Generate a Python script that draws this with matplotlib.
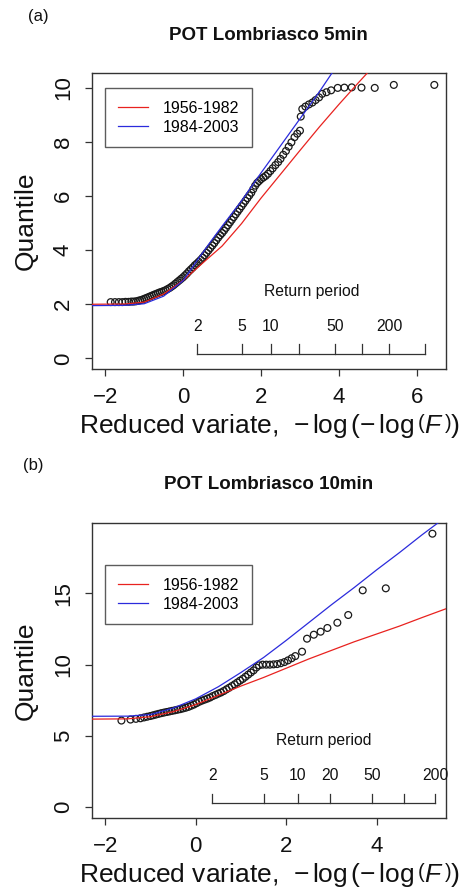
import numpy as np
import matplotlib
matplotlib.use('Agg')
import matplotlib.pyplot as plt

plt.rcParams['font.family'] = ['Liberation Sans', 'DejaVu Sans']
plt.rcParams['mathtext.fontset'] = 'custom'
plt.rcParams['mathtext.rm'] = 'Liberation Sans'
plt.rcParams['mathtext.it'] = 'Liberation Sans:italic'
plt.rcParams['mathtext.bf'] = 'Liberation Sans:bold'

# ---------------- Panel (a): POT Lombriasco 5min ----------------
a_pts_x = [-1.86, -1.75, -1.65, -1.56, -1.48, -1.40, -1.33, -1.27, -1.21, -1.15,
           -1.10, -1.05, -1.00, -0.95, -0.90, -0.85, -0.80, -0.75, -0.70, -0.65,
           -0.60, -0.55, -0.50, -0.45, -0.40, -0.35, -0.30, -0.25, -0.20, -0.15,
           -0.10, -0.05, 0.00, 0.05, 0.10, 0.15, 0.20, 0.25, 0.30, 0.35,
           0.40, 0.45, 0.50, 0.55, 0.60, 0.65, 0.70, 0.75, 0.80, 0.85,
           0.90, 0.95, 1.00, 1.05, 1.10, 1.15, 1.20, 1.25, 1.30, 1.35,
           1.40, 1.45, 1.50, 1.55, 1.60, 1.65, 1.70, 1.75, 1.80, 1.85,
           1.90, 1.95, 2.00, 2.06, 2.12, 2.18, 2.24, 2.30, 2.37, 2.44,
           2.50, 2.57, 2.64, 2.71, 2.78, 2.86, 2.93, 3.00, 3.02, 3.06,
           3.14, 3.23, 3.32, 3.40, 3.49, 3.57, 3.68, 3.80, 3.97, 4.14,
           4.33, 4.58, 4.92, 5.41, 6.45]
a_pts_y = [2.08, 2.08, 2.08, 2.08, 2.09, 2.09, 2.10, 2.10, 2.11, 2.13,
           2.15, 2.17, 2.20, 2.23, 2.26, 2.29, 2.32, 2.35, 2.38, 2.41,
           2.44, 2.46, 2.49, 2.52, 2.56, 2.60, 2.65, 2.70, 2.76, 2.82,
           2.88, 2.94, 3.00, 3.07, 3.14, 3.22, 3.29, 3.36, 3.44, 3.50,
           3.57, 3.64, 3.72, 3.81, 3.90, 3.99, 4.08, 4.17, 4.26, 4.36,
           4.46, 4.55, 4.63, 4.72, 4.82, 4.92, 5.02, 5.12, 5.22, 5.32,
           5.42, 5.52, 5.62, 5.72, 5.82, 5.92, 6.02, 6.12, 6.25, 6.38,
           6.48, 6.55, 6.62, 6.68, 6.74, 6.82, 6.92, 7.02, 7.14, 7.25,
           7.37, 7.52, 7.66, 7.82, 7.98, 8.17, 8.30, 8.41, 8.93, 9.21,
           9.30, 9.38, 9.45, 9.54, 9.64, 9.77, 9.83, 9.90, 9.99, 10.00,
           10.01, 10.00, 9.99, 10.10, 10.10]
a_red_x = [-2.40, -1.5, -1.0, -0.5, 0.0, 0.5, 1.0, 1.5, 2.0, 2.5, 3.0, 3.5, 4.0, 4.5, 4.78]
a_red_y = [2.00, 2.01, 2.08, 2.38, 2.88, 3.52, 4.15, 4.98, 5.92, 6.80, 7.68, 8.55, 9.38, 10.18, 10.62]
a_blue_x = [-2.40, -1.5, -1.0, -0.5, 0.0, 0.36, 0.7, 1.0, 1.5, 2.0, 2.5, 3.0, 3.5, 3.86]
a_blue_y = [1.95, 1.96, 2.02, 2.30, 2.87, 3.62, 4.30, 4.88, 5.82, 6.85, 7.85, 8.85, 9.85, 10.62]
a_xticks = [-2, 0, 2, 4, 6]
a_yticks = [0, 2, 4, 6, 8, 10]
a_rp_periods = [2, 5, 10, 20, 50, 100, 200, 500]
a_rp_labels = ['2', '5', '10', '', '50', '', '200', '']

# ---------------- Panel (b): POT Lombriasco 10min ----------------
b_pts_x = [-1.64, -1.44, -1.32, -1.22, -1.14, -1.07, -1.00, -0.94, -0.88, -0.82,
           -0.76, -0.70, -0.64, -0.58, -0.52, -0.46, -0.40, -0.34, -0.28, -0.22,
           -0.16, -0.10, -0.04, 0.02, 0.08, 0.14, 0.20, 0.26, 0.32, 0.38,
           0.44, 0.50, 0.56, 0.62, 0.68, 0.74, 0.80, 0.86, 0.92, 0.98,
           1.04, 1.10, 1.16, 1.22, 1.28, 1.34, 1.40, 1.48, 1.56, 1.64,
           1.72, 1.80, 1.88, 1.96, 2.04, 2.12, 2.20, 2.35, 2.46, 2.61,
           2.76, 2.91, 3.13, 3.37, 3.69, 4.20, 5.23]
b_pts_y = [6.08, 6.15, 6.20, 6.24, 6.30, 6.35, 6.40, 6.45, 6.50, 6.55,
           6.60, 6.64, 6.68, 6.72, 6.76, 6.80, 6.84, 6.88, 6.93, 6.98,
           7.04, 7.12, 7.20, 7.30, 7.40, 7.48, 7.55, 7.62, 7.70, 7.80,
           7.88, 7.97, 8.05, 8.15, 8.27, 8.38, 8.50, 8.62, 8.75, 8.88,
           9.00, 9.15, 9.30, 9.45, 9.60, 9.80, 9.95, 10.00, 10.00, 10.00,
           10.02, 10.04, 10.10, 10.18, 10.30, 10.45, 10.60, 10.91, 11.82, 12.10,
           12.31, 12.57, 12.94, 13.48, 15.21, 15.35, 19.18]
b_red_x = [-2.40, -1.5, -1.0, -0.5, 0.0, 0.5, 1.0, 1.5, 2.0, 2.5, 3.0, 3.5, 4.0, 4.5, 5.0, 5.60]
b_red_y = [6.18, 6.20, 6.35, 6.70, 7.20, 7.85, 8.50, 9.10, 9.75, 10.40, 11.00, 11.60, 12.15, 12.70, 13.30, 14.00]
b_blue_x = [-2.40, -1.5, -1.0, -0.5, 0.0, 0.5, 1.0, 1.5, 2.0, 2.5, 3.0, 3.5, 4.0, 4.5, 5.0, 5.40]
b_blue_y = [6.38, 6.39, 6.50, 6.95, 7.60, 8.45, 9.45, 10.50, 11.70, 12.95, 14.20, 15.40, 16.65, 17.85, 19.10, 20.05]
b_xticks = [-2, 0, 2, 4]
b_yticks = [0, 5, 10, 15]
b_rp_periods = [2, 5, 10, 20, 50, 100, 200]
b_rp_labels = ['2', '5', '10', '20', '50', '', '200']

series_labels = ['1956-1982', '1984-2003']
RED = '#e8221f'
BLUE = '#2b2bdc'
SPINE = '#333333'

fig = plt.figure(figsize=(4.69, 8.92), dpi=100)
W, H = 469.0, 892.0


def make_axes(left, right, top, bottom):
    return fig.add_axes([left / W, 1 - bottom / H, (right - left) / W, (bottom - top) / H])


def style(ax, xlim, ylim, xticks, yticks):
    ax.set_xlim(*xlim)
    ax.set_ylim(*ylim)
    ax.set_xticks(xticks)
    ax.set_yticks(yticks)
    for s in ax.spines.values():
        s.set_color(SPINE)
        s.set_linewidth(1.0)
    ax.tick_params(axis='both', direction='out', length=5, width=0.9, color=SPINE,
                   labelsize=16, labelcolor='#111111')
    ax.tick_params(axis='x', pad=8)
    ax.tick_params(axis='y', pad=8)
    for lab in ax.get_yticklabels():
        lab.set_rotation(90)
        lab.set_va('center')
        lab.set_ha('right')
    ax.set_xlabel(r'Reduced variate,  $-\,\log\left(-\,\log\left(F\,\right)\right)$',
                  fontsize=19, labelpad=3, color='#111111')
    ax.set_ylabel('Quantile', fontsize=19, labelpad=11, color='#111111')


def return_axis(ax, periods, labels, y_base, y_top, y_lab, title_x, title_y):
    px = -np.log(-np.log(1 - 1 / np.array(periods, dtype=float)))
    ax.plot([px[0], px[-1]], [y_base, y_base], color=SPINE, lw=0.9)
    for xv, lb in zip(px, labels):
        ax.plot([xv, xv], [y_base, y_top], color=SPINE, lw=0.9)
        if lb:
            ax.text(xv, y_lab, lb, ha='center', va='center', fontsize=11.3, color='#111111')
    ax.text(title_x, title_y, 'Return period', ha='center', va='center', fontsize=11.3,
            color='#111111')


def add_legend(ax, y_top):
    leg = ax.legend(loc='upper left', bbox_to_anchor=(0.037, y_top), borderaxespad=0,
                    fontsize=11.5, frameon=True, fancybox=False, handlelength=1.9,
                    handletextpad=0.9, borderpad=0.8, labelspacing=0.25)
    leg.get_frame().set_edgecolor(SPINE)
    leg.get_frame().set_linewidth(1.0)


# Panel (a)
axa = make_axes(92, 446, 73, 369)
axa.scatter(a_pts_x, a_pts_y, s=24, facecolors='none', edgecolors='#1a1a1a', linewidths=0.9, zorder=3)
axa.plot(a_red_x, a_red_y, color=RED, lw=0.9, label=series_labels[0], zorder=4)
axa.plot(a_blue_x, a_blue_y, color=BLUE, lw=0.9, label=series_labels[1], zorder=4)
style(axa, (-2.34, 6.75), (-0.39, 10.54), a_xticks, a_yticks)
return_axis(axa, a_rp_periods, a_rp_labels, 0.16, 0.53, 1.17, 3.3, 2.46)
add_legend(axa, 0.950)
fig.text(268 / W, 1 - 36 / H, 'POT Lombriasco 5min', ha='center', va='center',
         fontsize=13.5, fontweight='bold', color='#111111')
fig.text(38 / W, 1 - 16 / H, '(a)', ha='center', va='center', fontsize=12, color='#111111')

# Panel (b)
axb = make_axes(92, 446, 523, 818)
axb.scatter(b_pts_x, b_pts_y, s=24, facecolors='none', edgecolors='#1a1a1a', linewidths=0.9, zorder=3)
axb.plot(b_red_x, b_red_y, color=RED, lw=0.9, label=series_labels[0], zorder=4)
axb.plot(b_blue_x, b_blue_y, color=BLUE, lw=0.9, label=series_labels[1], zorder=4)
style(axb, (-2.29, 5.53), (-0.75, 19.93), b_xticks, b_yticks)
return_axis(axb, b_rp_periods, b_rp_labels, 0.28, 0.94, 2.22, 2.82, 4.67)
add_legend(axb, 0.858)
fig.text(269 / W, 1 - 485 / H, 'POT Lombriasco 10min', ha='center', va='center',
         fontsize=13.5, fontweight='bold', color='#111111')
fig.text(33 / W, 1 - 466 / H, '(b)', ha='center', va='center', fontsize=12, color='#111111')

fig.savefig('out.png', dpi=100)
